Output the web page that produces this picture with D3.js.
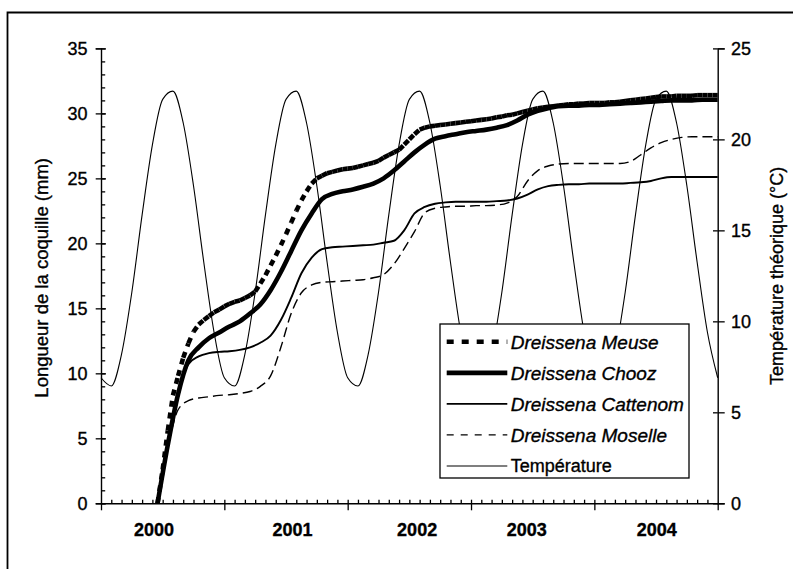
<!DOCTYPE html>
<html><head><meta charset="utf-8">
<script src="https://cdn.jsdelivr.net/npm/d3@7"></script>
<style>
body{margin:0;background:#fff}
svg{display:block}
text{font-family:"Liberation Sans",Arial,sans-serif;fill:#000;stroke:#000;stroke-width:0.35px}
</style>
</head><body>
<svg id="c" width="793" height="569"></svg>
<script>
// ---------- DATA ----------
const years = ["2000", "2001", "2002", "2003", "2004"];
const yearLabelAt = [0.426, 1.549, 2.559, 3.447, 4.501];   // where the year labels sit (years since 1 Jan 2000)
const lengthTicks = [0, 5, 10, 15, 20, 25, 30, 35];
const tempTicks = [0, 5, 10, 15, 20, 25];

// temperature: one value per month start (t = k/12, k = 0..60)
const temperature = [
  6.9, 6.45, 8.2, 11.6, 15.85, 19.7, 22.2, 22.65, 20.9, 17.45, 13.25, 9.4,
  6.9, 6.45, 8.2, 11.6, 15.85, 19.7, 22.2, 22.65, 20.9, 17.45, 13.25, 9.4,
  6.9, 6.45, 8.2, 11.6, 15.85, 19.7, 22.2, 22.65, 20.9, 17.45, 13.25, 9.4,
  6.9, 6.45, 8.2, 11.6, 15.85, 19.7, 22.2, 22.65, 20.9, 17.45, 13.25, 9.4,
  6.9, 6.45, 8.2, 11.6, 15.85, 19.7, 22.2, 22.65, 20.9, 17.45, 13.25, 9.4,
  6.9
];

// Dreissena Meuse: half-monthly readings, t = k/24, k = 11..120
const meuse = [
  0, 2.6, 5.6, 8.3, 9.8, 11.2, 12.3, 13.2, 13.75, 14.1,
  14.4, 14.7, 14.9, 15.15, 15.35, 15.5, 15.6, 15.8, 16.0, 16.3,
  16.9, 17.55, 18.3, 19.05, 19.85, 20.7, 21.6, 22.5, 23.3, 24.0,
  24.6, 25.0, 25.2, 25.4, 25.5, 25.6, 25.7, 25.75, 25.8, 25.9,
  26.0, 26.1, 26.2, 26.35, 26.6, 26.8, 27.0, 27.2, 27.6, 28.0,
  28.4, 28.75, 28.9, 29.0, 29.05, 29.1, 29.15, 29.2, 29.25, 29.3,
  29.35, 29.4, 29.45, 29.5, 29.55, 29.6, 29.7, 29.75, 29.85, 29.9,
  30.0, 30.1, 30.2, 30.3, 30.4, 30.45, 30.5, 30.55, 30.6, 30.65,
  30.7, 30.7, 30.75, 30.75, 30.8, 30.8, 30.8, 30.8, 30.85, 30.85,
  30.9, 30.95, 31.0, 31.05, 31.1, 31.15, 31.2, 31.25, 31.3, 31.3,
  31.3, 31.35, 31.35, 31.35, 31.35, 31.4, 31.4, 31.4, 31.4, 31.4
];

// monthly readings, t = (5.5 + m)/12 for m = 0..54, then t = 5
const chooz = [
  0, 4.5, 8.4, 11.0, 12.0, 12.7, 13.15,
  13.6, 14.0, 14.6, 15.3, 16.4, 17.8, 19.4, 21.0, 22.3, 23.4, 23.8, 24.0,
  24.15, 24.35, 24.6, 25.0, 25.6, 26.3, 27.0, 27.6, 28.05, 28.25, 28.4, 28.55,
  28.65, 28.75, 28.9, 29.1, 29.45, 29.9, 30.2, 30.4, 30.55, 30.6, 30.6, 30.65,
  30.65, 30.7, 30.75, 30.8, 30.85, 30.9, 30.95, 31.0, 31.0, 31.0, 31.05, 31.05,
  31.05
];
const cattenom = [
  0, 4.5, 8.4, 10.7, 11.3, 11.55, 11.65,
  11.7, 11.8, 12.0, 12.35, 12.9, 14.1, 15.8, 17.7, 18.9, 19.55, 19.7, 19.75,
  19.8, 19.85, 19.9, 20.05, 20.2, 21.0, 22.3, 22.8, 23.05, 23.15, 23.2, 23.2,
  23.2, 23.2, 23.25, 23.3, 23.45, 23.75, 24.15, 24.4, 24.5, 24.55, 24.55, 24.6,
  24.6, 24.6, 24.6, 24.65, 24.7, 24.8, 25.0, 25.1, 25.1, 25.1, 25.1, 25.1,
  25.1
];
const moselle = [
  0, 4.3, 7.2, 7.9, 8.1, 8.2, 8.3,
  8.35, 8.45, 8.6, 9.0, 9.8, 12.0, 14.6, 16.2, 16.8, 17.0, 17.05, 17.1,
  17.15, 17.2, 17.35, 17.6, 18.4, 19.6, 20.9, 22.35, 22.7, 22.8, 22.85, 22.85,
  22.9, 22.9, 22.95, 23.1, 23.6, 24.8, 25.6, 25.95, 26.1, 26.15, 26.15, 26.15,
  26.15, 26.15, 26.15, 26.3, 26.8, 27.35, 27.75, 28.0, 28.15, 28.2, 28.2, 28.2,
  28.2
];

const legendItems = ["Dreissena Meuse", "Dreissena Chooz", "Dreissena Cattenom", "Dreissena Moselle", "Température"];

// ---------- CHART ----------
const svg = d3.select("#c");
const X0 = 101, X1 = 717.7, Y0 = 503.3, Y1 = 48.4;
const x = d3.scaleLinear([0, 5], [X0, X1]);
const yL = d3.scaleLinear([0, 35], [Y0, Y1]);
const yR = d3.scaleLinear([0, 25], [Y0, Y1]);

const tempT = temperature.map((_, k) => k / 12);
const meuseT = meuse.map((_, i) => (i + 11) / 24);
const monthT = chooz.map((_, m) => m < chooz.length - 1 ? (5.5 + m) / 12 : 5);

// outer frame
svg.append("path").attr("d", `M7.5,569V12.5H793`).attr("fill", "none").attr("stroke", "#000").attr("stroke-width", 1.8);

const lineSmooth = d3.line().curve(d3.curveMonotoneX);

// temperature
svg.append("path")
  .attr("d", lineSmooth(temperature.map((v, k) => [x(tempT[k]), yR(v)])))
  .attr("fill", "none").attr("stroke", "#000").attr("stroke-width", 1.1);

// Moselle
svg.append("path")
  .attr("d", lineSmooth(moselle.map((v, i) => [x(monthT[i]), yL(v)])))
  .attr("fill", "none").attr("stroke", "#000").attr("stroke-width", 1.4)
  .attr("stroke-dasharray", "10,5");

// Cattenom
svg.append("path")
  .attr("d", lineSmooth(cattenom.map((v, i) => [x(monthT[i]), yL(v)])))
  .attr("fill", "none").attr("stroke", "#000").attr("stroke-width", 1.9);

// Chooz
svg.append("path")
  .attr("d", lineSmooth(chooz.map((v, i) => [x(monthT[i]), yL(v)])))
  .attr("fill", "none").attr("stroke", "#000").attr("stroke-width", 4.6)
  .attr("stroke-linejoin", "round");

// Meuse: dash pattern restarting at every reading (spreadsheet style)
const meusePts = meuse.map((v, i) => [x(meuseT[i]), yL(v)]);
svg.append("g").selectAll("path").data(d3.pairs(meusePts)).join("path")
  .attr("d", d => d3.line()(d))
  .attr("fill", "none").attr("stroke", "#000").attr("stroke-width", 4.6)
  .attr("stroke-dasharray", "6,6");

// ---------- AXES ----------
const fs = 18;
function styleAxis(g) {
  g.select(".domain").attr("stroke", "#000").attr("stroke-width", 1.4);
  g.selectAll(".tick line").attr("stroke", "#000").attr("stroke-width", 1.3);
  g.selectAll("text").attr("font-size", fs).attr("font-family", '"Liberation Sans", Arial, sans-serif');
}
// left axis
const gL = svg.append("g").attr("transform", `translate(${X0},0)`);
gL.call(d3.axisLeft(yL).tickValues(lengthTicks).tickSize(5.3).tickPadding(8.2)).call(styleAxis);
svg.append("g").attr("transform", `translate(${X0},0)`)
  .call(d3.axisRight(yL).tickValues(d3.range(0, 36, 1)).tickSize(4.2).tickFormat("").tickSizeOuter(0))
  .call(styleAxis).select(".domain").remove();
svg.append("g").attr("transform", `translate(${X0},0)`)
  .call(d3.axisRight(yL).tickValues(lengthTicks).tickSize(5).tickFormat("").tickSizeOuter(0))
  .call(styleAxis).select(".domain").remove();

// right axis
const gR = svg.append("g").attr("transform", `translate(${X1},0)`);
gR.call(d3.axisRight(yR).tickValues(tempTicks).tickSize(7).tickPadding(6.3)).call(styleAxis);
svg.append("g").attr("transform", `translate(${X1},0)`)
  .call(d3.axisLeft(yR).tickValues(tempTicks).tickSize(4.7).tickFormat("").tickSizeOuter(0))
  .call(styleAxis).select(".domain").remove();

// bottom axis: year ticks (down), month ticks (up), year labels
svg.append("g").attr("transform", `translate(0,${Y0})`)
  .call(d3.axisBottom(x).tickValues([0, 1, 2, 3, 4, 5]).tickSize(7).tickFormat("").tickSizeOuter(0))
  .call(styleAxis);
svg.append("g").attr("transform", `translate(0,${Y0})`)
  .call(d3.axisTop(x).tickValues(d3.range(1, 60).map(k => k / 12)).tickSize(3.6).tickFormat("").tickSizeOuter(0))
  .call(styleAxis).select(".domain").remove();
const gY = svg.append("g").attr("transform", `translate(0,${Y0})`)
  .call(d3.axisBottom(x).tickValues(yearLabelAt).tickSize(0).tickPadding(19.7).tickFormat((d, i) => years[i]));
gY.select(".domain").remove();
gY.selectAll("text").attr("font-size", fs).attr("font-weight", "bold")
  .attr("font-family", '"Liberation Sans", Arial, sans-serif');

// axis titles
svg.append("text").attr("transform", `translate(48,${(Y0 + Y1) / 2 + 2}) rotate(-90)`)
  .attr("text-anchor", "middle").attr("font-size", 18.5).text("Longueur de la coquille (mm)");
svg.append("text").attr("transform", `translate(783,${(Y0 + Y1) / 2}) rotate(-90)`)
  .attr("text-anchor", "middle").attr("font-size", 18).text("Température théorique (°C)");

// ---------- LEGEND ----------
const lg = svg.append("g").attr("transform", "translate(440,324)");
lg.append("rect").attr("x", 0).attr("y", 0).attr("width", 249).attr("height", 154)
  .attr("fill", "#fff").attr("stroke", "#000").attr("stroke-width", 1.3);
const rowY = d3.scaleLinear([0, 4], [17.7, 142]);
const sampleStyle = [
  {w: 4.6, dash: "7,8"},
  {w: 4.8, dash: null},
  {w: 1.7, dash: null},
  {w: 1.3, dash: "7,7"},
  {w: 1.2, dash: null}
];
legendItems.forEach((name, i) => {
  const yy = rowY(i);
  lg.append("line").attr("x1", 6.7).attr("x2", 67.3).attr("y1", yy).attr("y2", yy)
    .attr("stroke", "#000").attr("stroke-width", sampleStyle[i].w)
    .attr("stroke-dasharray", sampleStyle[i].dash);
  lg.append("text").attr("x", 70.7).attr("y", yy).attr("dy", "0.36em")
    .attr("font-size", i < 4 ? 19 : 18).attr("font-style", i < 4 ? "italic" : "normal")
    .text(name);
});
</script>
</body></html>
